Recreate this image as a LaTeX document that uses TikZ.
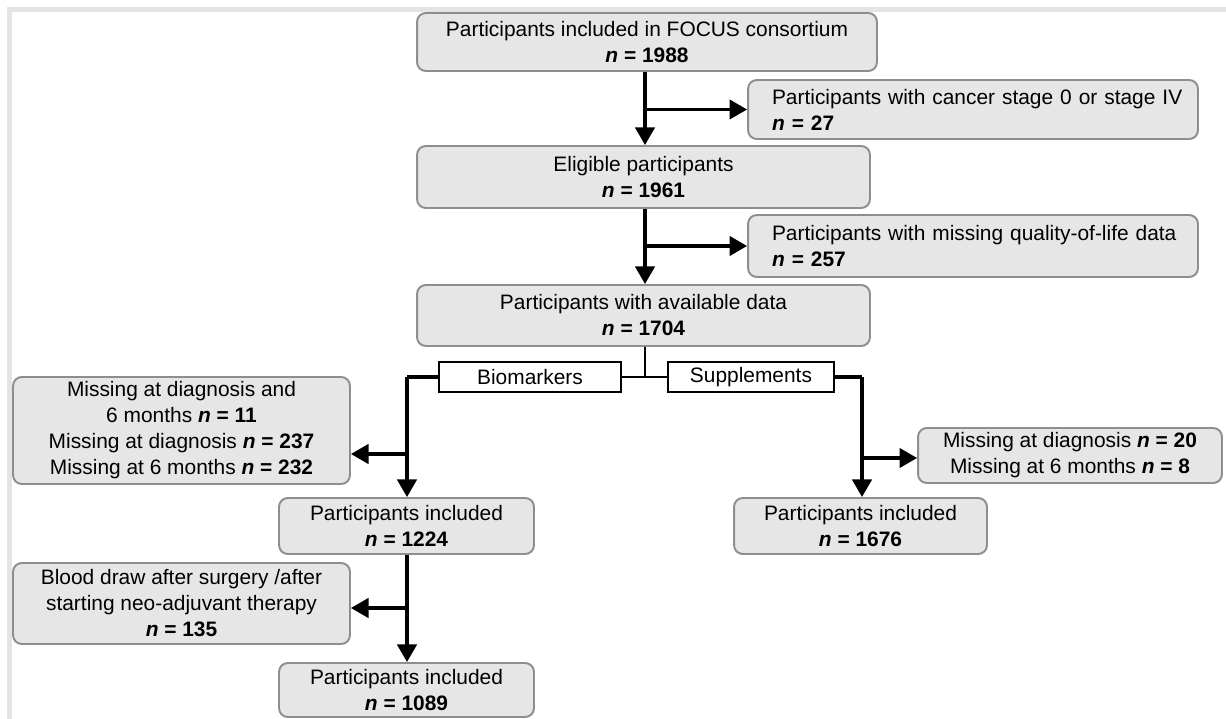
\documentclass[tikz,border=0pt]{standalone}
\usepackage{fontspec}
\setmainfont{Liberation Sans}
\usetikzlibrary{arrows.meta,calc}
\definecolor{boxfill}{HTML}{E6E6E6}
\definecolor{boxline}{HTML}{8E8E8E}
\definecolor{framegray}{HTML}{E4E4E4}
\newcommand{\bn}[1]{\textbf{\textit{n} = #1}}
\tikzset{
  box/.style={draw=boxline, line width=1.1pt, fill=boxfill, rounded corners=5pt,
    align=center, inner sep=0pt, font=\fontsize{11.9}{14.8}\selectfont},
  lbox/.style={box, align=left, inner xsep=0.48cm, inner ysep=0pt},
  tag/.style={draw=black, line width=1.1pt, fill=white, inner sep=0pt,
    font=\fontsize{11.9}{14.6}\selectfont, minimum height=0.6cm},
  arr/.style={line width=1.9pt, -{Triangle[length=10pt,width=11pt]}},
  thick line/.style={line width=1.9pt},
  thin line/.style={line width=1.1pt}
}
\begin{document}
\begin{tikzpicture}[x=0.02cm,y=-0.02cm]
\useasboundingbox (0,0) rectangle (1226,719);
\draw[line width=2.3pt, framegray] (9.5,719) -- (9.5,9.5) -- (1226,9.5);

% main column
\node[box, minimum width=9.2cm, minimum height=1.16cm] (A) at (647,42)
  {Participants included in FOCUS consortium\\\bn{1988}};
\node[lbox, text width=8.04cm, minimum height=1.18cm] (E1) at (973,109.5)
  {\mbox{Participants with cancer stage 0 or stage IV}\\\bn{27}};
\node[box, minimum width=9.06cm, minimum height=1.24cm] (B) at (643.5,177)
  {Eligible participants\\\bn{1961}};
\node[lbox, text width=8.04cm, minimum height=1.24cm] (E2) at (973,246)
  {\mbox{Participants with missing quality-of-life data}\\\bn{257}};
\node[box, minimum width=9.06cm, minimum height=1.22cm] (C) at (643.5,315.5)
  {Participants with available data\\\bn{1704}};

\node[tag, minimum width=3.64cm] (Bio) at (530,377) {Biomarkers};
\node[tag, minimum width=3.32cm] (Sup) at (751,377) {Supplements};

% biomarkers branch
\node[box, minimum width=6.74cm, minimum height=2.14cm] (L1) at (181.5,430.5)
  {Missing at diagnosis and\\6 months \bn{11}\\Missing at diagnosis \bn{237}\\Missing at 6 months \bn{232}};
\node[box, minimum width=5.1cm, minimum height=1.12cm] (D) at (406.5,526)
  {Participants included\\\bn{1224}};
\node[box, minimum width=6.74cm, minimum height=1.62cm] (L2) at (181.5,603.5)
  {Blood draw after surgery /after\\starting neo-adjuvant therapy\\\bn{135}};
\node[box, minimum width=5.1cm, minimum height=1.08cm] (F) at (406.5,690)
  {Participants included\\\bn{1089}};

% supplements branch
\node[box, minimum width=6.08cm, minimum height=1.1cm] (R1) at (1070,455.5)
  {Missing at diagnosis \bn{20}\\Missing at 6 months \bn{8}};
\node[box, minimum width=5.06cm, minimum height=1.12cm] (G) at (860.5,526)
  {Participants included\\\bn{1676}};

% helper coordinates
\coordinate (t1) at (645,0);
\coordinate (J) at (645,377);
\coordinate (lc) at (407,377);
\coordinate (rc) at (862,377);
\coordinate (k1) at (407,454);
\coordinate (k2) at (407,608);
\coordinate (k3) at (862,458);

% connectors
\draw[arr] (A.south -| t1) -- (B.north -| t1);
\draw[arr] (E1.west -| t1) -- (E1.west);
\draw[arr] (B.south -| t1) -- (C.north -| t1);
\draw[arr] (E2.west -| t1) -- (E2.west);

\draw[thin line] (C.south -| t1) -- (J);
\draw[thin line] (Bio.east) -- (J) -- (Sup.west);
\draw[thick line] (Bio.west) -- (lc);
\draw[arr] (lc) -- (D.north -| lc);
\draw[arr] (k1) -- (k1 -| L1.east);
\draw[arr] (D.south -| lc) -- (F.north -| lc);
\draw[arr] (k2) -- (k2 -| L2.east);

\draw[thick line] (Sup.east) -- (rc);
\draw[arr] (rc) -- (G.north -| rc);
\draw[arr] (k3) -- (k3 -| R1.west);
\end{tikzpicture}
\end{document}
